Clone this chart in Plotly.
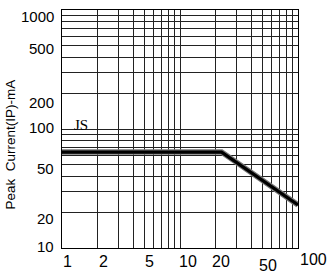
import math
import plotly.graph_objects as go

# ---- data ----
curve_x = [1, 22.5, 100]
curve_y = [64, 64, 23]

x_tick_labels = ["1", "2", "5", "10", "20", "50", "100"]
x_tick_values = [1, 2, 5, 10, 20, 50, 100]
y_tick_labels = ["1000", "500", "200", "100", "50", "20", "10"]
y_tick_values = [1000, 500, 200, 100, 50, 20, 10]

x_grid = [m * 10 ** e for e in range(0, 2) for m in range(1, 10)] + [100]
y_grid = [m * 10 ** e for e in range(1, 3) for m in range(1, 10)] + [1000]

series_label = "JS"
y_title = "Peak  Current(IP)-mA"

# ---- styling offsets (pixels) ----
x_label_xshift = [5.5, 5.5, 5.5, 8, 5, 5.5, 15]
x_label_yshift = [-13.5, -13, -13, -13, -13, -17, -11]
y_label_yshift = [-6, -3, -9, 1.5, -4, -6, 1.5]

fig = go.Figure()
fig.add_trace(go.Scatter(x=curve_x, y=curve_y, mode="lines",
                         line=dict(color="#777777", width=5.5), hoverinfo="skip",
                         showlegend=False))
fig.add_trace(go.Scatter(x=curve_x, y=curve_y, mode="lines",
                         line=dict(color="#000000", width=3.2), showlegend=False))

ann = []
for lab, v, dx, dy in zip(x_tick_labels, x_tick_values, x_label_xshift, x_label_yshift):
    ann.append(dict(x=math.log10(v), y=0, xref="x", yref="paper", text=lab,
                    showarrow=False, xanchor="center", yanchor="middle",
                    xshift=dx, yshift=dy,
                    font=dict(family="Liberation Sans, Arial", size=16, color="#000")))
for lab, v, dy in zip(y_tick_labels, y_tick_values, y_label_yshift):
    ann.append(dict(x=0, y=math.log10(v), xref="paper", yref="y", text=lab,
                    showarrow=False, xanchor="right", yanchor="middle",
                    xshift=-6.5, yshift=dy,
                    font=dict(family="Liberation Sans, Arial", size=15, color="#000")))
ann.append(dict(x=math.log10(1.45), y=math.log10(108), xref="x", yref="y",
                text=series_label, showarrow=False, xanchor="center", yanchor="middle",
                font=dict(family="Liberation Serif, Times New Roman", size=15, color="#000")))
ann.append(dict(x=0, y=0.435, xref="paper", yref="paper", text=y_title,
                showarrow=False, textangle=-90, xanchor="center", yanchor="middle",
                xshift=-52,
                font=dict(family="Liberation Sans, Arial", size=13.5, color="#000")))

fig.update_layout(
    width=328, height=273,
    margin=dict(l=62, r=30, t=10, b=25),
    paper_bgcolor="white", plot_bgcolor="white",
    annotations=ann,
    xaxis=dict(type="log", range=[0, 2], tickvals=x_grid, showticklabels=False,
               ticks="", showgrid=True, gridcolor="#222222", gridwidth=1,
               showline=True, linecolor="#000", linewidth=1, mirror=True,
               zeroline=False),
    yaxis=dict(type="log", range=[1, 3], tickvals=y_grid, showticklabels=False,
               ticks="", showgrid=True, gridcolor="#222222", gridwidth=1,
               showline=True, linecolor="#000", linewidth=1, mirror=True,
               zeroline=False),
)

fig.write_html("out.html",
               config={"displayModeBar": False},
               post_script="document.body.style.margin='0';document.body.style.overflow='hidden';")
